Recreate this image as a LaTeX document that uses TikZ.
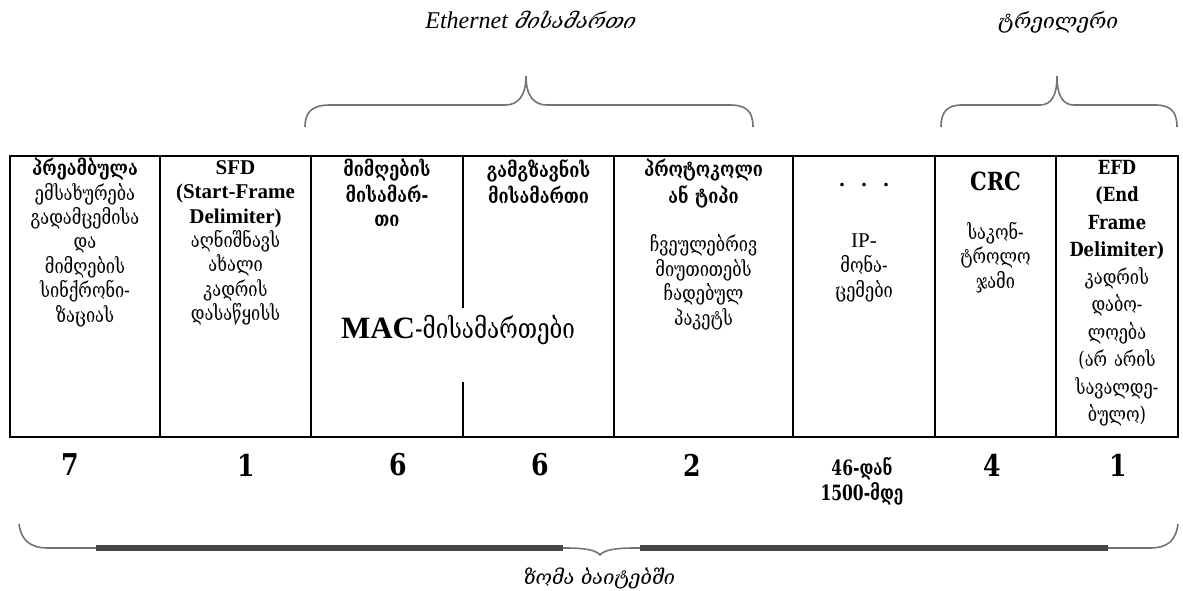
\documentclass[tikz,border=0pt]{standalone}
\usepackage{fontspec}
\setmainfont{Liberation Serif}
\newfontfamily\geo{DejaVu Serif}[FakeStretch=0.8]
\newfontfamily\geoit{DejaVu Serif}[FakeSlant=0.22]
\newfontfamily\narrowser{DejaVu Serif}[FakeStretch=0.84]
\newfontfamily\tightser{DejaVu Serif}[FakeStretch=0.74]
\begin{document}
\begin{tikzpicture}[x=1pt,y=-1pt,
  rule/.style={line width=2pt, line cap=rect},
  brace/.style={draw=black!55, line width=1.6pt},
  bracebar/.style={draw=black!72, line width=6pt},
  cell/.style={anchor=north, inner sep=0pt, align=center, text width=#1,
    execute at begin node=\strut},
  body/.style={font=\geo\fontsize{20.5}{24.4}\selectfont},
  size/.style={font=\narrowser\bfseries\fontsize{30}{32}\selectfont, inner sep=0pt},
  caption/.style={inner sep=0pt}]
\useasboundingbox (0,0) rectangle (1183,591);

% ---- frame of the Ethernet frame layout ----
\draw[rule] (10,156) rectangle (1178,437);
\foreach \x in {160,311,614,793,935,1056}
  \draw[rule] (\x,156) -- (\x,437);
\draw[rule] (463,156) -- (463,307);
\draw[rule] (463,383) -- (463,437);

% ---- field texts ----
\node[cell=146, body] (pre) at (85,158)
  {{\bfseries პრეამბულა}\\ ემსახურება\\ გადამცემისა\\ და\\ მიმღების\\ სინქრონი-\\ ზაციას};
\node[cell=146, body] (sfd) at (235.5,157)
  {{\rmfamily\bfseries\fontsize{21}{24.4}\selectfont SFD\\ (Start-Frame\\ Delimiter)}\\ აღნიშნავს\\ ახალი\\ კადრის\\ დასაწყისს};
\node[cell=146, body] (dst) at (387,159)
  {\bfseries მიმღების\\ მისამარ-\\ თი};
\node[cell=146, body] (src) at (538.5,159)
  {\bfseries გამგზავნის\\ მისამართი};
\node[cell=174, body] (typ) at (703.5,159)
  {{\bfseries პროტოკოლი\\ ან ტიპი}\\[24.4pt] ჩვეულებრივ\\ მიუთითებს\\ ჩადებულ\\ პაკეტს};
\node[caption, font=\rmfamily\bfseries\fontsize{22}{24}\selectfont] (dots) at (864,185) {.\ \ \ .\ \ \ .};
\node[cell=136, body] (data) at (864,230)
  {{\rmfamily\fontsize{21}{24.4}\selectfont IP-}\\ მონა-\\ ცემები};
\node[caption, font=\narrowser\bfseries\fontsize{25}{26}\selectfont] (crc) at (995.5,181) {CRC};
\node[cell=116, body] (sum) at (995.5,222)
  {საკონ-\\ ტროლო\\ ჯამი};
\node[cell=120, body, font=\geo\fontsize{20.5}{27.5}\selectfont] (efd) at (1117,155)
  {{\narrowser\bfseries\fontsize{19.5}{27.5}\selectfont EFD\\ (End\\ Frame\\ Delimiter)}\\ კადრის\\ დაბო-\\ ლოება\\ (არ არის\\ სავალდე-\\ ბულო)};
\node[caption] (mac) at (458,330)
  {{\rmfamily\bfseries\fontsize{31}{34}\selectfont MAC}{\geo\fontsize{28}{34}\selectfont -მისამართები}};

% ---- field sizes in bytes ----
\node[size] (n1) at (70,465) {7};
\node[size] (n2) at (246,465) {1};
\node[size] (n3) at (398,465) {6};
\node[size] (n4) at (540,465) {6};
\node[size] (n5) at (692,465) {2};
\node[inner sep=0pt, align=center, font=\tightser\bfseries\fontsize{21}{25}\selectfont] (n6) at (862,481) {46-დან\\ 1500-მდე};
\node[size] (n7) at (992,465) {4};
\node[size] (n8) at (1118,465) {1};

% ---- brace over the address fields ----
\coordinate (ea) at (305,127);
\coordinate (eb) at (753,127);
\coordinate (ec) at (526,76);
\draw[brace] (ea) .. controls (305,112) and (312,105) .. (330,105) -- (505,105)
  .. controls (518,105) and (526,96) .. (ec)
  .. controls (526,96) and (534,105) .. (547,105) -- (730,105)
  .. controls (747,105) and (753,112) .. (eb);
\node[caption, font=\fontsize{24}{26}\selectfont] (eth) at (530,20)
  {\itshape Ethernet {\geoit\fontsize{21}{26}\selectfont მისამართი}};

% ---- brace over the trailer fields ----
\coordinate (ta) at (941,127);
\coordinate (tb) at (1177,127);
\coordinate (tc) at (1057,76);
\draw[brace] (ta) .. controls (941,112) and (947,105) .. (962,105) -- (1040,105)
  .. controls (1051,105) and (1057,96) .. (tc)
  .. controls (1057,96) and (1063,105) .. (1074,105) -- (1155,105)
  .. controls (1171,105) and (1177,112) .. (tb);
\node[caption, font=\geoit\fontsize{21}{26}\selectfont] (trl) at (1057,22) {ტრეილერი};

% ---- brace under the whole frame ----
\coordinate (ba) at (19,524);
\coordinate (bb) at (1178,524);
\coordinate (bc) at (600,555);
\draw[brace] (ba) .. controls (21,540) and (30,548) .. (48,548) -- (565,548)
  .. controls (585,548) and (596,550) .. (bc)
  .. controls (604,550) and (615,548) .. (635,548) -- (1150,548)
  .. controls (1168,548) and (1176,540) .. (bb);
\draw[bracebar] (96,548) -- (563,548);
\draw[bracebar] (640,548) -- (1108,548);
\node[caption, font=\geoit\fontsize{20}{26}\selectfont] (len) at (598,578) {ზომა ბაიტებში};
\end{tikzpicture}
\end{document}
